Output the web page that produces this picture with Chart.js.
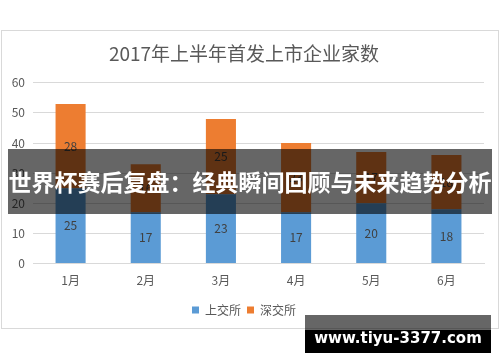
<!DOCTYPE html>
<html>
<head>
<meta charset="utf-8">
<script src="https://cdn.jsdelivr.net/npm/chart.js@4.4.1/dist/chart.umd.min.js"></script>
<style>
  html, body { margin: 0; padding: 0; background: #fff; }
  #wrap { position: relative; width: 500px; height: 362px; overflow: hidden; }
  #card { position: absolute; left: 1px; top: 30px; width: 496px; height: 297px; border: 1px solid #d9d9d9; background: #fff; }
  #c { position: absolute; left: 0; top: 0; }
  #banner {
    position: absolute; left: 8px; top: 149px; width: 484px; height: 65px;
    background: rgba(0,0,0,0.6); color: #fff;
    font-family: "Noto Sans CJK SC", sans-serif; font-weight: 700; font-size: 23px;
    line-height: 65px; text-align: center; white-space: nowrap;
  }
  #site { position: absolute; left: 305px; top: 315px; width: 186px; height: 38px; }
  #site .top { position: absolute; left: 0; top: 0; width: 100%; height: 15px; background: rgba(0,0,0,0.6); }
  #site .bot { position: absolute; left: 0; top: 15px; width: 100%; height: 23px; background: #000; }
  #site .txt {
    position: absolute; left: 0; top: 0; width: 100%; height: 38px; line-height: 46px;
    color: #fff; text-align: center; white-space: nowrap;
    font-family: "DejaVu Sans", sans-serif; font-weight: 700; font-size: 15px;
  }
</style>
</head>
<body>
<div id="wrap">
  <div id="card"></div>
  <canvas id="c" width="500" height="362"></canvas>
  <div id="banner">世界杯赛后复盘：经典瞬间回顾与未来趋势分析</div>
  <div id="site"><div class="top"></div><div class="bot"></div><div class="txt">www.tiyu-3377.com</div></div>
</div>
<script>
const months = ['1月', '2月', '3月', '4月', '5月', '6月'];
const shanghai = [25, 17, 23, 17, 20, 18];
const shenzhen = [28, 16, 25, 23, 17, 18];
const yTicks = [0, 10, 20, 30, 40, 50, 60];

const FONT = '"Noto Sans CJK SC", "Microsoft YaHei", sans-serif';

// Writes each segment's value in the middle of its bar
const segmentLabels = {
  id: 'segmentLabels',
  afterDatasetsDraw(chart) {
    const ctx = chart.ctx;
    ctx.save();
    ctx.font = '12px ' + FONT;
    ctx.fillStyle = '#404040';
    ctx.textAlign = 'center';
    ctx.textBaseline = 'middle';
    chart.data.datasets.forEach((ds, i) => {
      const meta = chart.getDatasetMeta(i);
      meta.data.forEach((bar, j) => {
        const p = bar.getProps(['x', 'y', 'base'], true);
        ctx.fillText(String(ds.data[j]), p.x, (p.y + p.base) / 2);
      });
    });
    ctx.restore();
  }
};

new Chart(document.getElementById('c'), {
  type: 'bar',
  data: {
    labels: months,
    datasets: [
      { label: '上交所', data: shanghai, backgroundColor: '#5B9BD5' },
      { label: '深交所', data: shenzhen, backgroundColor: '#ED7D31' }
    ]
  },
  options: {
    responsive: false,
    animation: false,
    layout: { padding: { left: 4, right: 16, top: 30, bottom: 36 } },
    datasets: { bar: { barPercentage: 0.8, categoryPercentage: 0.5 } },
    plugins: {
      title: {
        display: true,
        text: '2017年上半年首发上市企业家数',
        color: '#595959',
        font: { family: FONT, size: 19, weight: 'normal' },
        padding: { top: 12, bottom: 18 }
      },
      legend: {
        position: 'bottom',
        labels: {
          color: '#595959',
          font: { family: FONT, size: 12 },
          boxWidth: 7, boxHeight: 7, padding: 6
        }
      },
      tooltip: { enabled: false }
    },
    scales: {
      x: {
        stacked: true,
        grid: { display: false, drawTicks: false },
        border: { display: true, color: '#d9d9d9' },
        ticks: { color: '#595959', font: { family: FONT, size: 12 }, padding: 10 }
      },
      y: {
        stacked: true,
        min: 0, max: 60,
        afterBuildTicks(scale) { scale.ticks = yTicks.map(v => ({ value: v })); },
        afterFit(scale) { scale.width = 29; },
        grid: { color: '#d9d9d9', drawTicks: false },
        border: { display: false },
        ticks: { color: '#595959', font: { family: FONT, size: 12 }, padding: 8 }
      }
    }
  },
  plugins: [segmentLabels]
});
</script>
</body>
</html>
